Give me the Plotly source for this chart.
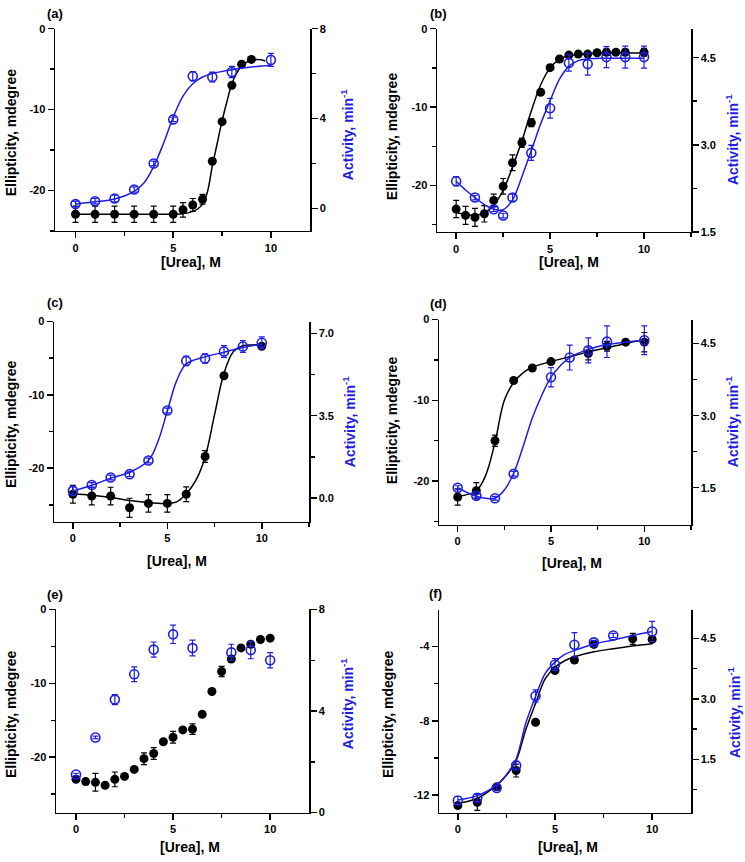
import plotly.graph_objects as go

W, H = 745, 862
BLUE = "#1e1ee0"
BLACK = "#000000"
FONT = "Liberation Sans, Arial, sans-serif"

# ---------------- data ----------------
urea_ticks = [0, 5, 10]
urea_minor = [2.5, 7.5, 12.5]

# (a)
a_cd_x = [0, 1, 2, 3, 4, 5, 5.5, 6, 6.5, 7, 7.5, 8, 8.5, 9]
a_cd_y = [-22.95, -22.95, -22.95, -22.95, -22.95, -22.95, -22.4, -21.8, -21.1, -16.4, -11.5, -7.0, -4.4, -3.8]
a_cd_err = [1.0, 1.0, 1.0, 1.0, 1.0, 1.0, 0.9, 0.8, 0.6, 0.3, 0.2, 0.2, 0.15, 0.15]
a_act_x = [0, 1, 2, 3, 4, 5, 6, 7, 8, 10]
a_act_y = [0.19, 0.32, 0.44, 0.84, 2.0, 3.96, 5.88, 5.85, 6.07, 6.61]
a_act_err = [0.12, 0.12, 0.15, 0.12, 0.1, 0.1, 0.21, 0.22, 0.25, 0.29]
a_cd_fit_x = [0, 1, 2, 3, 4, 5, 5.5, 6, 6.25, 6.5, 6.75, 7, 7.25, 7.5, 7.75, 8, 8.25, 8.5, 9, 9.5, 9.7]
a_cd_fit_y = [-22.95, -22.95, -22.95, -22.95, -22.95, -22.95, -22.9, -22.6, -22.3, -21.7, -20.2, -17.0, -14.2, -11.4, -9.0, -6.8, -5.5, -4.6, -3.9, -3.85, -4.0]
a_act_fit_x = [0, 1, 2, 3, 3.5, 4, 4.5, 5, 5.5, 6, 6.5, 7, 8, 9, 10]
a_act_fit_y = [0.19, 0.29, 0.42, 0.76, 1.13, 1.86, 2.89, 4.06, 5.0, 5.55, 5.85, 6.0, 6.17, 6.29, 6.37]
a_left_ticks = [0, -10, -20]
a_left_text = ["0", "-10", "-20"]
a_left_minor = [-5, -15, -25]
a_right_ticks = [0, 4, 8]
a_right_text = ["0", "4", "8"]
a_right_minor = [2, 6]

# (b)
b_cd_x = [0, 0.5, 1, 1.5, 2, 2.5, 3, 3.5, 4, 4.5, 5, 5.5, 6, 6.5, 7, 7.5, 8, 8.5, 9, 10]
b_cd_y = [-23.0, -23.8, -24.05, -23.6, -21.9, -20.1, -17.1, -14.55, -12.0, -8.1, -4.97, -3.87, -3.37, -3.24, -3.24, -3.07, -3.0, -3.0, -3.0, -3.0]
b_cd_err = [1.1, 1.15, 1.15, 1.05, 0.8, 1.0, 1.0, 0.6, 0.5, 0.3, 0.3, 0.3, 0.3, 0.3, 0.3, 0.3, 0.4, 0.3, 0.4, 0.5]
b_act_x = [0, 1, 2, 2.5, 3, 4, 5, 6, 7, 8, 9, 10]
b_act_y = [2.37, 2.09, 1.89, 1.78, 2.09, 2.86, 3.63, 4.41, 4.39, 4.51, 4.51, 4.51]
b_act_err = [0.08, 0.04, 0.04, 0.04, 0.06, 0.13, 0.17, 0.14, 0.19, 0.18, 0.19, 0.19]
b_cd_fit_x = [0, 0.5, 1, 1.5, 2, 2.5, 3, 3.5, 4, 4.5, 5, 5.5, 6, 7, 8, 10]
b_cd_fit_y = [-23.45, -23.7, -23.8, -23.5, -22.5, -20.6, -17.65, -14.3, -10.5, -7.15, -5.0, -3.9, -3.45, -3.2, -3.1, -3.1]
b_act_fit_x = [0, 0.5, 1, 1.5, 2, 2.5, 3, 3.5, 4, 4.5, 5, 5.5, 6, 6.5, 7, 8, 10]
b_act_fit_y = [2.37, 2.22, 2.09, 1.97, 1.89, 1.88, 2.05, 2.45, 2.90, 3.36, 3.76, 4.13, 4.35, 4.45, 4.48, 4.49, 4.49]
b_left_ticks = [0, -10, -20]
b_left_text = ["0", "-10", "-20"]
b_left_minor = [-5, -15, -25]
b_right_ticks = [1.5, 3.0, 4.5]
b_right_text = ["1.5", "3.0", "4.5"]
b_right_minor = [2.25, 3.75]

# (c)
c_cd_x = [0, 1, 2, 3, 4, 5, 6, 7, 8, 10]
c_cd_y = [-23.55, -23.8, -23.8, -25.4, -24.8, -24.8, -23.55, -18.4, -7.4, -3.37]
c_cd_err = [1.2, 1.2, 1.2, 1.3, 1.2, 1.2, 1.0, 0.8, 0.2, 0.2]
c_act_x = [0, 1, 2, 3, 4, 5, 6, 7, 8, 9, 10]
c_act_y = [0.31, 0.56, 0.88, 1.02, 1.60, 3.72, 5.83, 5.93, 6.23, 6.44, 6.60]
c_act_err = [0.2, 0.1, 0.1, 0.1, 0.1, 0.1, 0.2, 0.2, 0.25, 0.25, 0.25]
c_cd_fit_x = [0, 1, 2, 3, 4, 5, 5.5, 6, 6.5, 7, 7.5, 8, 8.5, 9, 9.5, 10]
c_cd_fit_y = [-23.5, -23.7, -24.0, -24.4, -24.7, -24.8, -24.6, -23.5, -21.7, -18.5, -12.7, -7.05, -4.1, -3.3, -3.2, -3.15]
c_act_fit_x = [0, 1, 2, 3, 4, 4.5, 5, 5.5, 6, 7, 8, 9, 10]
c_act_fit_y = [0.31, 0.55, 0.85, 1.1, 1.6, 2.4, 3.7, 5.0, 5.7, 6.0, 6.2, 6.4, 6.55]
c_left_ticks = [0, -10, -20]
c_left_text = ["0", "-10", "-20"]
c_left_minor = [-5, -15, -25]
c_right_ticks = [0.0, 3.5, 7.0]
c_right_text = ["0.0", "3.5", "7.0"]
c_right_minor = [1.75, 5.25]

# (d)
d_cd_x = [0, 1, 2, 3, 4, 5, 7, 8, 9, 10]
d_cd_y = [-21.97, -21.2, -15.0, -7.54, -6.0, -5.2, -4.2, -3.3, -2.8, -2.8]
d_cd_err = [1.0, 1.0, 0.7, 0.3, 0.2, 0.2, 0.8, 0.6, 0.2, 1.2]
d_act_x = [0, 1, 2, 3, 5, 6, 7, 8, 10]
d_act_y = [1.50, 1.33, 1.28, 1.79, 3.80, 4.21, 4.36, 4.54, 4.57]
d_act_err = [0.04, 0.04, 0.04, 0.05, 0.2, 0.26, 0.26, 0.33, 0.3]
d_cd_fit_x = [0, 1, 1.5, 2, 2.5, 3, 3.5, 4, 5, 6, 7, 8, 9, 10]
d_cd_fit_y = [-21.9, -21.2, -19.3, -15.2, -10.0, -7.8, -6.6, -5.9, -5.2, -4.6, -4.0, -3.5, -2.95, -2.5]
d_act_fit_x = [0, 0.5, 1, 1.5, 2, 2.5, 3, 3.5, 4, 4.5, 5, 5.5, 6, 7, 8, 9, 10]
d_act_fit_y = [1.5, 1.4, 1.32, 1.28, 1.28, 1.45, 1.8, 2.35, 2.95, 3.42, 3.80, 4.04, 4.21, 4.38, 4.48, 4.53, 4.57]
d_left_ticks = [0, -10, -20]
d_left_text = ["0", "-10", "-20"]
d_left_minor = [-5, -15, -25]
d_right_ticks = [1.5, 3.0, 4.5]
d_right_text = ["1.5", "3.0", "4.5"]
d_right_minor = [2.25, 3.75]

# (e)
e_cd_x = [0, 0.5, 1, 1.5, 2, 2.5, 3, 3.5, 4, 4.5, 5, 5.5, 6, 6.5, 7, 7.5, 8, 8.5, 9, 9.5, 10]
e_cd_y = [-23.0, -23.3, -23.4, -23.8, -23.0, -22.6, -21.65, -20.2, -19.5, -17.9, -17.3, -16.3, -16.2, -14.2, -11.1, -8.4, -6.7, -5.2, -4.7, -4.06, -3.88]
e_cd_err = [0.2, 0.4, 1.2, 0.2, 1.0, 0.2, 0.2, 0.8, 0.8, 0.2, 0.8, 0.2, 0.7, 0.2, 0.4, 0.7, 0.2, 0.2, 0.2, 0.2, 0.2]
e_act_x = [0, 1, 2, 3, 4, 5, 6, 8, 9, 10]
e_act_y = [1.50, 2.96, 4.45, 5.45, 6.42, 7.02, 6.48, 6.31, 6.40, 6.0]
e_act_err = [0.05, 0.05, 0.2, 0.29, 0.3, 0.36, 0.31, 0.32, 0.34, 0.3]
e_left_ticks = [0, -10, -20]
e_left_text = ["0", "-10", "-20"]
e_left_minor = [-5, -15, -25]
e_right_ticks = [0, 4, 8]
e_right_text = ["0", "4", "8"]
e_right_minor = [2, 6]

# (f)
f_cd_x = [0, 1, 2, 3, 4, 5, 6, 7, 9, 10]
f_cd_y = [-12.57, -12.39, -11.56, -10.68, -8.08, -5.29, -4.72, -3.88, -3.58, -3.61]
f_cd_err = [0.1, 0.44, 0.1, 0.35, 0.1, 0.1, 0.05, 0.15, 0.3, 0.05]
f_act_x = [0, 1, 2, 3, 4, 5, 6, 7, 8, 10]
f_act_y = [0.48, 0.55, 0.79, 1.35, 3.07, 3.85, 4.34, 4.40, 4.57, 4.67]
f_act_err = [0.1, 0.1, 0.05, 0.1, 0.15, 0.15, 0.3, 0.05, 0.05, 0.25]
f_cd_fit_x = [0, 1, 2, 2.5, 3, 3.5, 4, 4.5, 5, 5.5, 6, 7, 8, 9, 10]
f_cd_fit_y = [-12.45, -12.18, -11.47, -10.94, -10.15, -8.47, -7.06, -5.73, -5.11, -4.76, -4.55, -4.28, -4.11, -3.96, -3.84]
f_act_fit_x = [0, 1, 2, 2.5, 3, 3.5, 4, 4.5, 5, 5.5, 6, 7, 8, 9, 10]
f_act_fit_y = [0.49, 0.6, 0.86, 1.12, 1.51, 2.40, 3.06, 3.63, 3.91, 4.10, 4.20, 4.36, 4.46, 4.57, 4.67]
f_left_ticks = [-4, -8, -12]
f_left_text = ["-4", "-8", "-12"]
f_left_minor = [-6, -10]
f_right_ticks = [1.5, 3.0, 4.5]
f_right_text = ["1.5", "3.0", "4.5"]
f_right_minor = [0.75, 2.25, 3.75]

# ---------------- panel configuration ----------------
panels = [
    dict(label="(a)", box=(55, 23, 310, 228), xr=[-1.05, 12], lr=[-25, 0], rr=[-1, 8],
         cd=(a_cd_x, a_cd_y, a_cd_err), act=(a_act_x, a_act_y, a_act_err),
         cdfit=(a_cd_fit_x, a_cd_fit_y), actfit=(a_act_fit_x, a_act_fit_y),
         lt=(a_left_ticks, a_left_text, a_left_minor), rt=(a_right_ticks, a_right_text, a_right_minor),
         lab=(55, 8), ell=(11, 128), act_t=(347, 131), urea=(191, 260)),
    dict(label="(b)", box=(437, 23, 691, 229), xr=[-1.02, 12.5], lr=[-25.9, 0], rr=[1.5, 5.0],
         cd=(b_cd_x, b_cd_y, b_cd_err), act=(b_act_x, b_act_y, b_act_err),
         cdfit=(b_cd_fit_x, b_cd_fit_y), actfit=(b_act_fit_x, b_act_fit_y),
         lt=(b_left_ticks, b_left_text, b_left_minor), rt=(b_right_ticks, b_right_text, b_right_minor),
         lab=(438, 8), ell=(392, 132), act_t=(732, 136), urea=(569, 260)),
    dict(label="(c)", box=(54, 320, 309, 523), xr=[-1, 12.5], lr=[-27.3, 0], rr=[-1, 7.5],
         cd=(c_cd_x, c_cd_y, c_cd_err), act=(c_act_x, c_act_y, c_act_err),
         cdfit=(c_cd_fit_x, c_cd_fit_y), actfit=(c_act_fit_x, c_act_fit_y),
         lt=(c_left_ticks, c_left_text, c_left_minor), rt=(c_right_ticks, c_right_text, c_right_minor),
         lab=(55, 301), ell=(11, 424), act_t=(349, 422), urea=(177, 563)),
    dict(label="(d)", box=(439, 318, 691, 526), xr=[-1, 12.5], lr=[-25.4, 0], rr=[0.73, 5.0],
         cd=(d_cd_x, d_cd_y, d_cd_err), act=(d_act_x, d_act_y, d_act_err),
         cdfit=(d_cd_fit_x, d_cd_fit_y), actfit=(d_act_fit_x, d_act_fit_y),
         lt=(d_left_ticks, d_left_text, d_left_minor), rt=(d_right_ticks, d_right_text, d_right_minor),
         lab=(439, 302), ell=(392, 420), act_t=(732, 422), urea=(572, 565)),
    dict(label="(e)", box=(56, 612, 309, 818), xr=[-1.03, 12], lr=[-27.5, 0], rr=[0, 8],
         cd=(e_cd_x, e_cd_y, e_cd_err), act=(e_act_x, e_act_y, e_act_err),
         cdfit=None, actfit=None,
         lt=(e_left_ticks, e_left_text, e_left_minor), rt=(e_right_ticks, e_right_text, e_right_minor),
         lab=(55, 597), ell=(11, 718), act_t=(347, 708), urea=(190, 853)),
    dict(label="(f)", box=(439, 613, 691, 818), xr=[-0.97, 12], lr=[-12.95, -2.05], rr=[0.18, 5.19],
         cd=(f_cd_x, f_cd_y, f_cd_err), act=(f_act_x, f_act_y, f_act_err),
         cdfit=(f_cd_fit_x, f_cd_fit_y), actfit=(f_act_fit_x, f_act_fit_y),
         lt=(f_left_ticks, f_left_text, f_left_minor), rt=(f_right_ticks, f_right_text, f_right_minor),
         lab=(435, 596), ell=(388, 718), act_t=(734, 717), urea=(568, 853)),
]

fig = go.Figure()
layout = dict(
    width=W, height=H, autosize=False,
    margin=dict(l=0, r=0, t=0, b=0),
    paper_bgcolor="white", plot_bgcolor="rgba(0,0,0,0)",
    showlegend=False,
    font=dict(family=FONT, color=BLACK),
)
annotations = []

tickfont = dict(family=FONT, size=11, color=BLACK, weight="bold")
titlefont = dict(family=FONT, size=14, color=BLACK, weight="bold")


def axis_common():
    return dict(showline=True, linecolor=BLACK, linewidth=1.5, ticks="outside",
                ticklen=6, tickwidth=1.5, tickcolor=BLACK, showgrid=False,
                zeroline=False, tickfont=tickfont, mirror=False, fixedrange=True)


for i, p in enumerate(panels):
    n = i + 1
    xname = "x" if n == 1 else f"x{n}"
    yl = 2 * i + 1
    yr = 2 * i + 2
    ylname = "y" if yl == 1 else f"y{yl}"
    yrname = f"y{yr}"
    x0, y0, x1, y1 = p["box"]
    xdom = [x0 / W, x1 / W]
    ydom = [1 - y1 / H, 1 - y0 / H]

    xa = axis_common()
    xa.update(domain=xdom, anchor=ylname, range=p["xr"], tickmode="array",
              tickvals=urea_ticks, ticktext=[str(v) for v in urea_ticks],
              minor=dict(tickmode="array", tickvals=urea_minor, ticks="outside",
                         ticklen=4, tickwidth=1.5, tickcolor=BLACK, showgrid=False))
    layout["xaxis" if n == 1 else f"xaxis{n}"] = xa

    ya = axis_common()
    lt_vals, lt_text, lt_minor = p["lt"]
    ya.update(domain=ydom, anchor=xname, range=p["lr"], tickmode="array",
              tickvals=lt_vals, ticktext=lt_text, side="left",
              minor=dict(tickmode="array", tickvals=lt_minor, ticks="outside",
                         ticklen=4, tickwidth=1.5, tickcolor=BLACK, showgrid=False))
    layout["yaxis" if yl == 1 else f"yaxis{yl}"] = ya

    yb = axis_common()
    rt_vals, rt_text, rt_minor = p["rt"]
    yb.update(domain=ydom, anchor=xname, overlaying=ylname, side="right",
              range=p["rr"], tickmode="array", tickvals=rt_vals, ticktext=rt_text,
              minor=dict(tickmode="array", tickvals=rt_minor, ticks="outside",
                         ticklen=4, tickwidth=1.5, tickcolor=BLACK, showgrid=False))
    layout[f"yaxis{yr}"] = yb

    # fitted curves
    if p["cdfit"] is not None:
        fig.add_trace(go.Scatter(x=p["cdfit"][0], y=p["cdfit"][1], mode="lines",
                                 line=dict(color=BLACK, width=1.5, shape="spline"),
                                 xaxis=xname, yaxis=ylname, hoverinfo="skip"))
    cx, cy, ce = p["cd"]
    fig.add_trace(go.Scatter(x=cx, y=cy, mode="markers",
                             marker=dict(color=BLACK, size=9, symbol="circle"),
                             error_y=dict(type="data", array=ce, visible=True,
                                          color=BLACK, thickness=1.2, width=3),
                             xaxis=xname, yaxis=ylname))
    if p["actfit"] is not None:
        fig.add_trace(go.Scatter(x=p["actfit"][0], y=p["actfit"][1], mode="lines",
                                 line=dict(color=BLUE, width=1.5, shape="spline"),
                                 xaxis=xname, yaxis=yrname, hoverinfo="skip"))
    ax_, ay_, ae_ = p["act"]
    fig.add_trace(go.Scatter(x=ax_, y=ay_, mode="markers",
                             marker=dict(color=BLUE, size=9, symbol="circle-open",
                                         line=dict(color=BLUE, width=1.6)),
                             error_y=dict(type="data", array=ae_, visible=True,
                                          color=BLUE, thickness=1.2, width=3),
                             xaxis=xname, yaxis=yrname))

    # texts
    annotations.append(dict(text=p["label"], x=p["lab"][0] / W, y=1 - p["lab"][1] / H,
                            xref="paper", yref="paper", xanchor="center", yanchor="middle",
                            showarrow=False, font=dict(family=FONT, size=13, color=BLACK, weight="bold")))
    annotations.append(dict(text="Ellipticity, mdegree", x=p["ell"][0] / W, y=1 - p["ell"][1] / H,
                            xref="paper", yref="paper", xanchor="center", yanchor="middle",
                            textangle=-90, showarrow=False, font=titlefont))
    annotations.append(dict(text="Activity, min<sup>-1</sup>", x=p["act_t"][0] / W,
                            y=1 - p["act_t"][1] / H, xref="paper", yref="paper",
                            xanchor="center", yanchor="middle", textangle=-90,
                            showarrow=False,
                            font=dict(family=FONT, size=14, color=BLUE, weight="bold")))
    annotations.append(dict(text="[Urea], M", x=p["urea"][0] / W, y=1 - p["urea"][1] / H,
                            xref="paper", yref="paper", xanchor="center", yanchor="middle",
                            showarrow=False, font=titlefont))

layout["annotations"] = annotations
fig.update_layout(**layout)
fig.write_html("out.html", config={"displayModeBar": False, "staticPlot": True},
               post_script="document.body.style.margin='0';document.body.style.padding='0';")
